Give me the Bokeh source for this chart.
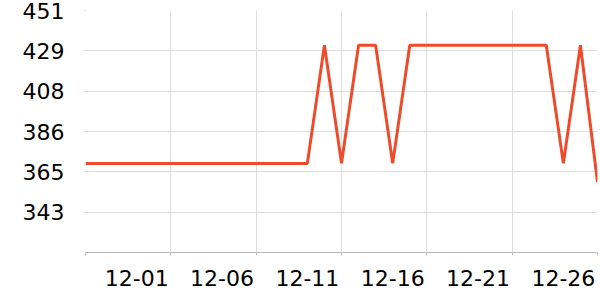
import pandas as pd
from bokeh.plotting import figure
from bokeh.models import FixedTicker, Range1d, ColumnDataSource, DatetimeAxis, CustomLabelingPolicy
from bokeh.embed import file_html
from bokeh.resources import INLINE

dates = pd.date_range("2023-11-26", "2023-12-26", freq="D")
values = [369.5] * 14 + [432.5, 369.5, 432.5, 432.5, 369.5] + [432.5] * 9 + [369.5, 432.5, 359.5]
y_ticks = [343.5, 365, 386.5, 408, 429.5, 451]
y_labels = ["343", "365", "386", "408", "429", "451"]
x_tick_dates = ["2023-11-26", "2023-12-01", "2023-12-06", "2023-12-11", "2023-12-16", "2023-12-21", "2023-12-26"]
x_labels = ["", "12-01", "12-06", "12-11", "12-16", "12-21", "12-26"]

FONT = "DejaVu Sans"
GRID = "#dddddd"

p = figure(width=600, height=300, x_axis_type="datetime", output_backend="svg",
           toolbar_location=None, min_border_left=85, min_border_right=3,
           min_border_top=10, min_border_bottom=48)
p.outline_line_color = None
p.x_range = Range1d(dates[0], dates[-1])
p.y_range = Range1d(322, 451)

src = ColumnDataSource(dict(x=dates, y=values))
p.line("x", "y", source=src, line_color="#ee4b2b", line_width=3)

xt = [int(pd.Timestamp(d).value // 10**6) for d in x_tick_dates]
p.xaxis.ticker = FixedTicker(ticks=xt)
p.xaxis.major_label_policy = CustomLabelingPolicy(code="for (const i of indices) indices.unset(i); return indices")
p.xaxis.major_label_text_font_size = "1px"
p.xaxis.major_label_standoff = 0
p.xaxis.axis_line_color = "#bbbbbb"
p.xaxis.major_tick_line_color = "#bbbbbb"
p.xaxis.major_tick_out = 3
p.xaxis.major_tick_in = 0
p.xaxis.minor_tick_line_color = None

# label axis: labels right-aligned to the tick (shifted by half a label width)
shift = int(2.0 * 86400000)
lt = [t - shift for t, l in zip(xt, x_labels) if l]
lab_axis = DatetimeAxis(ticker=FixedTicker(ticks=lt),
                        major_label_overrides={t: l for t, l in zip(lt, [l for l in x_labels if l])})
lab_axis.axis_line_color = None
lab_axis.major_tick_line_color = None
lab_axis.minor_tick_line_color = None
lab_axis.major_tick_out = 0
lab_axis.major_tick_in = 0
lab_axis.major_label_standoff = 9
lab_axis.major_label_text_font = FONT
lab_axis.major_label_text_font_size = "22px"
lab_axis.major_label_text_color = "#000000"
p.add_layout(lab_axis, "below")

p.yaxis.ticker = FixedTicker(ticks=y_ticks)
p.yaxis.major_label_overrides = {t: l for t, l in zip(y_ticks, y_labels)}
p.yaxis.major_label_text_font = FONT
p.yaxis.major_label_text_font_size = "22px"
p.yaxis.major_label_text_color = "#000000"
p.yaxis.major_label_standoff = 19
p.yaxis.axis_line_color = None
p.yaxis.major_tick_line_color = GRID
p.yaxis.major_tick_out = 2
p.yaxis.major_tick_in = 0
p.yaxis.minor_tick_line_color = None

p.xgrid.grid_line_color = GRID
p.ygrid.grid_line_color = GRID
p.xgrid.ticker = FixedTicker(ticks=xt)
p.ygrid.ticker = FixedTicker(ticks=y_ticks)

open("out.html", "w").write(file_html(p, INLINE))
